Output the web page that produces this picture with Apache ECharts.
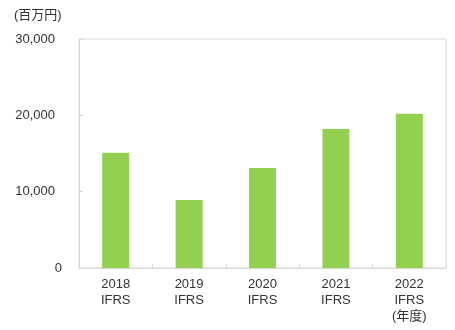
<!DOCTYPE html>
<html><head><meta charset="utf-8">
<script src="https://cdn.jsdelivr.net/npm/echarts@6/dist/echarts.min.js"></script>
<style>html,body{margin:0;padding:0;background:#fff}#c{width:455px;height:330px}</style>
</head><body><div id="c"></div>
<script>
var years = ['2018', '2019', '2020', '2021', '2022'];
var standards = ['IFRS', 'IFRS', 'IFRS', 'IFRS', 'IFRS'];
var suffixes = ['', '', '', '', '(年度)'];
var values = [15100, 8900, 13100, 18200, 20200];
var yTicks = [0, 10000, 20000, 30000];
var unitLabel = '(百万円)';

var categories = years.map(function (y, i) {
  return y + '\n' + standards[i] + (suffixes[i] ? '\n' + suffixes[i] : '');
});
var font = '"Liberation Sans", "Noto Sans CJK JP", sans-serif';
var chart = echarts.init(document.getElementById('c'), null, {renderer: 'canvas'});
chart.setOption({
  animation: false,
  textStyle: {fontFamily: font},
  grid: {left: 79, right: 9, top: 39, bottom: 62, show: true, borderColor: '#d9d9d9', borderWidth: 1, containLabel: false},
  graphic: [{type: 'text', left: 14, top: 9, style: {text: unitLabel, font: '13px ' + font, fill: '#333'}}],
  xAxis: {
    type: 'category', data: categories,
    axisLine: {lineStyle: {color: '#d9d9d9'}},
    axisTick: {show: true, inside: true, length: 4, lineStyle: {color: '#d9d9d9'}},
    axisLabel: {color: '#333', fontSize: 13, lineHeight: 16, margin: 8, fontFamily: font}
  },
  yAxis: {
    type: 'value', min: yTicks[0], max: yTicks[yTicks.length - 1], interval: 10000,
    axisLine: {show: true, lineStyle: {color: '#d9d9d9'}},
    axisTick: {show: true, inside: true, length: 4, lineStyle: {color: '#d9d9d9'}},
    splitLine: {show: false},
    axisLabel: {color: '#333', fontSize: 13, margin: 17, fontFamily: font,
      formatter: function (v) {
        return v === 0 ? '0' : '{p|' + v.toLocaleString('en-US') + '}';
      },
      rich: {p: {fontSize: 13, fontFamily: font, color: '#333', padding: [0, 7, 0, 0]}}
    }
  },
  series: [{type: 'bar', data: values, barWidth: 27, itemStyle: {color: '#92D050'}}]
});
</script></body></html>
